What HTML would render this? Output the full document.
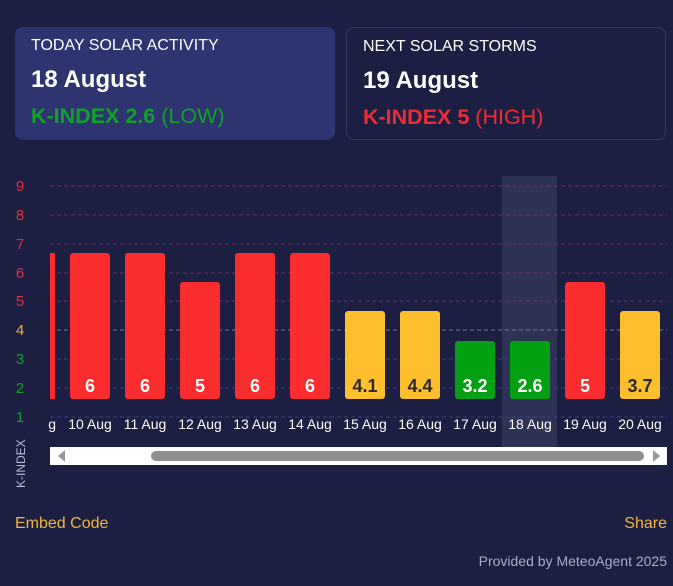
<!DOCTYPE html>
<html><head><meta charset="utf-8"><style>
body{margin:0;width:673px;height:586px;background:#1c1f42;font-family:"Liberation Sans",sans-serif;overflow:hidden;position:relative}
.card{position:absolute;top:27px;width:320px;height:113px;box-sizing:border-box;border-radius:8px}
.t1{position:absolute;left:16px;top:10px;font-size:16px;color:#fff}
.t2{position:absolute;left:16px;top:39px;font-size:24px;font-weight:bold;color:#fff}
.t3{position:absolute;left:16px;top:77px;font-size:21.5px}
.ft{position:absolute;font-size:16px}
</style></head><body>
<div class="card" style="left:15px;background:#2e346f">
<div class="t1">TODAY SOLAR ACTIVITY</div><div class="t2">18 August</div>
<div class="t3" style="color:#11a02a"><b>K-INDEX 2.6</b> (LOW)</div></div>
<div class="card" style="left:346px;border:1px solid #353a66;background:#1c1f42">
<div class="t1">NEXT SOLAR STORMS</div><div class="t2">19 August</div>
<div class="t3" style="color:#ef2b35"><b>K-INDEX 5</b> (HIGH)</div></div>
<svg width="673" height="500" style="position:absolute;left:0;top:0" font-family="Liberation Sans, sans-serif">
<rect x="502" y="176" width="55" height="271" fill="#2e3254"/>
<g stroke-dasharray="4,3" stroke-width="1">
<line x1="50" x2="667" y1="186" y2="186" stroke="#6e2c52"/>
<line x1="50" x2="667" y1="215" y2="215" stroke="#6e2c52"/>
<line x1="50" x2="667" y1="244" y2="244" stroke="#6e2c52"/>
<line x1="50" x2="667" y1="273" y2="273" stroke="#6e2c52"/>
<line x1="50" x2="667" y1="301" y2="301" stroke="#6e2c52"/>
<line x1="50" x2="667" y1="330" y2="330" stroke="#7a7a78"/>
<line x1="50" x2="667" y1="359" y2="359" stroke="#37407a"/>
<line x1="50" x2="667" y1="388" y2="388" stroke="#37407a"/>
<line x1="50" x2="667" y1="417" y2="417" stroke="#37407a"/>
</g>
<g font-size="15" text-anchor="middle">
<text x="20" y="191" fill="#e0303a">9</text><text x="20" y="220" fill="#e0303a">8</text>
<text x="20" y="249" fill="#e0303a">7</text><text x="20" y="278" fill="#e0303a">6</text>
<text x="20" y="306" fill="#e0303a">5</text><text x="20" y="335" fill="#f0b030">4</text>
<text x="20" y="364" fill="#11a02a">3</text><text x="20" y="393" fill="#11a02a">2</text>
<text x="20" y="422" fill="#11a02a">1</text>
</g>
<g>
<rect x="50" y="253" width="5" height="146" fill="#fb2c2e"/>
<rect x="70" y="253" width="40" height="146" rx="3" fill="#fb2c2e"/>
<rect x="125" y="253" width="40" height="146" rx="3" fill="#fb2c2e"/>
<rect x="180" y="282" width="40" height="117" rx="3" fill="#fb2c2e"/>
<rect x="235" y="253" width="40" height="146" rx="3" fill="#fb2c2e"/>
<rect x="290" y="253" width="40" height="146" rx="3" fill="#fb2c2e"/>
<rect x="345" y="311" width="40" height="88" rx="3" fill="#fdbf2d"/>
<rect x="400" y="311" width="40" height="88" rx="3" fill="#fdbf2d"/>
<rect x="455" y="341" width="40" height="58" rx="3" fill="#03a014"/>
<rect x="510" y="341" width="40" height="58" rx="3" fill="#03a014"/>
<rect x="565" y="282" width="40" height="117" rx="3" fill="#fb2c2e"/>
<rect x="620" y="311" width="40" height="88" rx="3" fill="#fdbf2d"/>
</g>
<g font-size="18" font-weight="bold" text-anchor="middle" fill="#fff">
<text x="90" y="392">6</text><text x="145" y="392">6</text><text x="200" y="392">5</text>
<text x="255" y="392">6</text><text x="310" y="392">6</text>
<text x="365" y="392" fill="#2a2a2a">4.1</text><text x="420" y="392" fill="#2a2a2a">4.4</text>
<text x="475" y="392">3.2</text><text x="530" y="392">2.6</text><text x="585" y="392">5</text>
<text x="640" y="392" fill="#2a2a2a">3.7</text>
</g>
<g font-size="14" text-anchor="middle" fill="#fff">
<text x="90" y="429">10 Aug</text><text x="145" y="429">11 Aug</text><text x="200" y="429">12 Aug</text>
<text x="255" y="429">13 Aug</text><text x="310" y="429">14 Aug</text><text x="365" y="429">15 Aug</text>
<text x="420" y="429">16 Aug</text><text x="475" y="429">17 Aug</text><text x="530" y="429">18 Aug</text>
<text x="585" y="429">19 Aug</text><text x="640" y="429">20 Aug</text>
</g>
<text x="56" y="429" font-size="14" fill="#fff" text-anchor="end">g</text>
<text transform="translate(25,488) rotate(-90)" font-size="12" fill="#b8bbd8">K-INDEX</text>
<rect x="50" y="447" width="617" height="18" fill="#fff"/>
<path d="M65 450 L58 456 L65 462Z" fill="#999"/>
<path d="M653 450 L660 456 L653 462Z" fill="#999"/>
<rect x="151" y="451" width="493" height="10" rx="5" fill="#8f8f8f"/>
</svg>
<div class="ft" style="left:15px;top:515px;color:#f3b53b">Embed Code</div>
<div class="ft" style="right:6px;top:515px;color:#f3b53b">Share</div>
<div class="ft" style="right:6px;top:553px;font-size:14px;color:#a9acd0">Provided by MeteoAgent 2025</div>
</body></html>
